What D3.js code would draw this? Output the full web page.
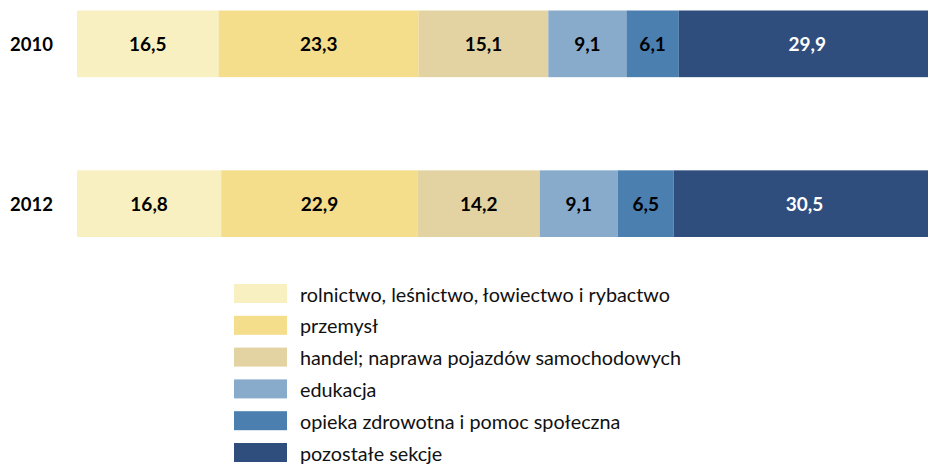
<!DOCTYPE html>
<html>
<head>
<meta charset="utf-8">
<script src="https://cdn.jsdelivr.net/npm/d3@7"></script>
<style>
  html, body { margin: 0; padding: 0; background: #fff; }
  svg { display: block; }
</style>
</head>
<body>
<svg id="chart" width="928" height="465"></svg>
<script>
const years = ["2010", "2012"];
const categories = [
  "rolnictwo, leśnictwo, łowiectwo i rybactwo",
  "przemysł",
  "handel; naprawa pojazdów samochodowych",
  "edukacja",
  "opieka zdrowotna i pomoc społeczna",
  "pozostałe sekcje"
];
const values2010 = [16.5, 23.3, 15.1, 9.1, 6.1, 29.9];
const values2012 = [16.8, 22.9, 14.2, 9.1, 6.5, 30.5];
const colors = ["#F9F0C1", "#F4DD8B", "#E4D3A2", "#88ABCC", "#4A7FB0", "#2F4D7D"];
const labelColors = ["#000", "#000", "#000", "#000", "#000", "#fff"];

const seriesByYear = { "2010": values2010, "2012": values2012 };
const FONT = "Lato, 'Open Sans', sans-serif";

const svg = d3.select("#chart");

const x = d3.scaleLinear().domain([0, 100]).range([77, 935.5]);
const y = d3.scaleBand().domain(years).range([10.5, 237]).paddingInner(0.583);
const color = d3.scaleOrdinal().domain(categories).range(colors);

const rows = years.map(yr => {
  const obj = { year: yr };
  categories.forEach((c, i) => obj[c] = seriesByYear[yr][i]);
  return obj;
});
const stacked = d3.stack().keys(categories)(rows);

const groups = svg.append("g").selectAll("g")
  .data(stacked)
  .join("g")
  .attr("fill", d => color(d.key));

groups.selectAll("rect")
  .data(d => d)
  .join("rect")
  .attr("x", d => x(d[0]))
  .attr("y", d => y(d.data.year))
  .attr("width", d => x(d[1]) - x(d[0]))
  .attr("height", y.bandwidth());

const fmt = v => d3.format(".1f")(v).replace(".", ",");
stacked.forEach((layer, li) => {
  svg.append("g").selectAll("text")
    .data(layer)
    .join("text")
    .attr("x", d => (x(d[0]) + x(d[1])) / 2)
    .attr("y", d => y(d.data.year) + y.bandwidth() / 2 + 7)
    .attr("text-anchor", "middle")
    .attr("font-family", FONT)
    .attr("font-weight", "bold")
    .attr("font-size", 19)
    .attr("fill", labelColors[li])
    .text(d => fmt(d[1] - d[0]));
});

const yAxis = d3.axisLeft(y).tickSize(0).tickPadding(0);
const ag = svg.append("g").attr("transform", `translate(53,0)`).call(yAxis);
ag.select(".domain").remove();
ag.selectAll("text")
  .attr("font-family", FONT)
  .attr("font-weight", "bold")
  .attr("font-size", 18.5)
  .attr("fill", "#000")
  .attr("dy", null)
  .attr("y", 7);

const ly = d3.scalePoint().domain(categories).range([284, 443]);
const items = svg.append("g").selectAll("g").data(categories).join("g")
  .attr("transform", d => `translate(0,${ly(d)})`);
items.append("rect")
  .attr("x", 234).attr("y", 0)
  .attr("width", 53).attr("height", 19)
  .attr("fill", d => color(d));
items.append("text")
  .attr("x", 300).attr("y", 17.5)
  .attr("font-family", FONT)
  .attr("font-size", 19.8)
  .attr("fill", "#111")
  .text(d => d);
</script>
</body>
</html>
